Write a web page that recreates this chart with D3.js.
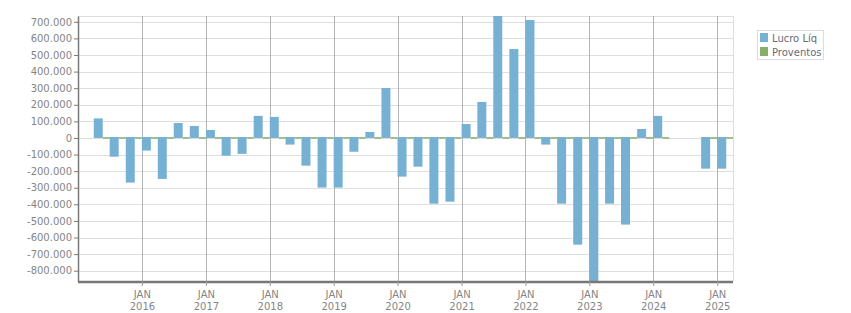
<!DOCTYPE html>
<html>
<head>
<meta charset="utf-8">
<script src="https://cdn.jsdelivr.net/npm/d3@7"></script>
<style>
  body { margin: 0; background: #fff; }
  svg { display: block; font-family: "DejaVu Sans", sans-serif; }
</style>
</head>
<body>
<svg id="chart" width="851" height="313"></svg>
<script>
(function() {

  // quarter start dates, one bar each
  var quarters = [
    "2015-04", "2015-07", "2015-10",
    "2016-01", "2016-04", "2016-07", "2016-10",
    "2017-01", "2017-04", "2017-07", "2017-10",
    "2018-01", "2018-04", "2018-07", "2018-10",
    "2019-01", "2019-04", "2019-07", "2019-10",
    "2020-01", "2020-04", "2020-07", "2020-10",
    "2021-01", "2021-04", "2021-07", "2021-10",
    "2022-01", "2022-04", "2022-07", "2022-10",
    "2023-01", "2023-04", "2023-07", "2023-10",
    "2024-01", "2024-10", "2025-01"
  ];

  var lucroLiq = [
    118000, -113000, -269000,
    -76000, -247000, 90000, 72000,
    48000, -107000, -96000, 133000,
    127000, -40000, -167000, -299000,
    -299000, -83000, 36000, 301000,
    -233000, -173000, -396000, -384000,
    84000, 217000, 735000, 536000,
    711000, -40000, -396000, -643000,
    -862000, -396000, -522000, 54000,
    133000, -185000, -185000
  ];

  var proventos = [
    0, 0, 0, 0, 0, 0, 0, 0, 0, 0, 0, 0, 0, 0, 0, 0, 0, 0, 0,
    0, 0, 0, 0, 0, 0, 0, 0, 0, 0, 0, 0, 0, 0, 0, 0, 0, 0, 0
  ];

  var yTicks = [-800000, -700000, -600000, -500000, -400000, -300000, -200000, -100000,
                0, 100000, 200000, 300000, 400000, 500000, 600000, 700000];

  var years = [2016, 2017, 2018, 2019, 2020, 2021, 2022, 2023, 2024, 2025];

  var seriesNames = ["Lucro Líq", "Proventos"];
  var seriesColors = ["#76b1d3", "#89ae6a"];

  var left = 78, right = 733, top = 16, bottom = 281;

  var parse = d3.utcParse("%Y-%m");
  var data = quarters.map(function(q, i) {
    return { date: parse(q), lucro: lucroLiq[i], prov: proventos[i] };
  });

  var x = d3.scaleUtc()
      .domain([parse("2015-01"), parse("2025-04")])
      .range([left, right]);

  var y = d3.scaleLinear()
      .domain(d3.extent(lucroLiq))
      .range([bottom, top]);

  var locale = d3.formatLocale({ decimal: ",", thousands: ".", grouping: [3], currency: ["", ""], minus: "-" });
  var fmt = locale.format(",.0f");

  var svg = d3.select("#chart");

  var plot = svg.append("g");

  // horizontal grid
  plot.selectAll(".hgrid")
      .data(yTicks)
    .enter().append("line")
      .attr("x1", left).attr("x2", right)
      .attr("y1", d => Math.round(y(d)) + 0.5).attr("y2", d => Math.round(y(d)) + 0.5)
      .attr("stroke", "#dedede");

  // plot frame top / right
  plot.append("line")
      .attr("x1", left).attr("x2", right).attr("y1", top + 0.5).attr("y2", top + 0.5)
      .attr("stroke", "#dedede");
  plot.append("line")
      .attr("x1", right + 0.5).attr("x2", right + 0.5).attr("y1", top).attr("y2", bottom)
      .attr("stroke", "#dedede");

  // vertical year lines
  plot.selectAll(".vgrid")
      .data(years)
    .enter().append("line")
      .attr("x1", d => Math.round(x(Date.UTC(d, 0, 1))) + 0.5)
      .attr("x2", d => Math.round(x(Date.UTC(d, 0, 1))) + 0.5)
      .attr("y1", top).attr("y2", bottom)
      .attr("stroke", "#b4b4b4");

  var y0 = y(0);
  var barW = 9, provW = 7;

  // proventos (zero values) drawn as flat bars next to each lucro bar
  plot.selectAll(".prov")
      .data(data)
    .enter().append("rect")
      .attr("x", d => x(d.date) + barW)
      .attr("width", d => Math.min(provW, right - x(d.date) - barW))
      .attr("y", d => Math.min(y(d.prov), y0) - 0.75)
      .attr("height", d => Math.abs(y(d.prov) - y0) + 1.5)
      .attr("fill", seriesColors[1]);

  plot.selectAll(".bar")
      .data(data)
    .enter().append("rect")
      .attr("x", d => x(d.date))
      .attr("width", barW)
      .attr("y", d => d.lucro >= 0 ? y(d.lucro) : y0 - 1)
      .attr("height", d => d.lucro >= 0 ? y0 - y(d.lucro) : y(d.lucro) - y0 + 1)
      .attr("fill", seriesColors[0]);

  // y axis
  var yAxis = svg.append("g")
      .attr("transform", "translate(" + left + ",0)")
      .call(d3.axisLeft(y).tickValues(yTicks).tickSize(4).tickSizeOuter(0).tickPadding(2).tickFormat(fmt));
  yAxis.select(".domain").attr("stroke", "#7a7a7a").attr("stroke-width", 1.5);
  yAxis.selectAll(".tick line").attr("stroke", "#7a7a7a");
  yAxis.selectAll(".tick text")
      .attr("fill", "#858585")
      .style("font-size", "10px")
      .style("font-family", "DejaVu Sans, sans-serif");

  // x axis
  var xAxis = svg.append("g")
      .attr("transform", "translate(0," + bottom + ")")
      .call(d3.axisBottom(x)
        .tickValues(years.map(d => new Date(Date.UTC(d, 0, 1))))
        .tickSize(5)
        .tickFormat(""));
  xAxis.select(".domain").attr("stroke", "#777").attr("stroke-width", 2.5).attr("d", "M" + left + ",1V1H" + right);
  xAxis.selectAll(".tick line").attr("stroke", "#9a9a9a");
  xAxis.selectAll(".tick").each(function(d) {
    var t = d3.select(this).append("text")
        .attr("fill", "#858585")
        .attr("text-anchor", "middle")
        .style("font-size", "10px")
        .style("font-family", "DejaVu Sans, sans-serif");
    t.append("tspan").attr("x", 0).attr("y", 17).text("JAN");
    t.append("tspan").attr("x", 0).attr("y", 29).text(d.getUTCFullYear());
  });

  // legend
  var legend = svg.append("g")
      .attr("transform", "translate(757,30)");

  legend.append("rect")
      .attr("x", 0.5).attr("y", 0.5)
      .attr("width", 66).attr("height", 29)
      .attr("fill", "#fff")
      .attr("stroke", "#dcdcdc");

  var item = legend.selectAll(".item")
      .data(seriesNames)
    .enter().append("g")
      .attr("transform", (_, i) => "translate(0," + (i * 14) + ")");

  item.append("rect")
      .attr("x", 3).attr("y", 3)
      .attr("width", 8).attr("height", 9)
      .attr("fill", (_, i) => seriesColors[i]);

  item.append("text")
      .attr("x", 15).attr("y", 12)
      .attr("fill", "#6a6a78")
      .style("font-size", "10px")
      .text(d => d);

})();
</script>
</body>
</html>
